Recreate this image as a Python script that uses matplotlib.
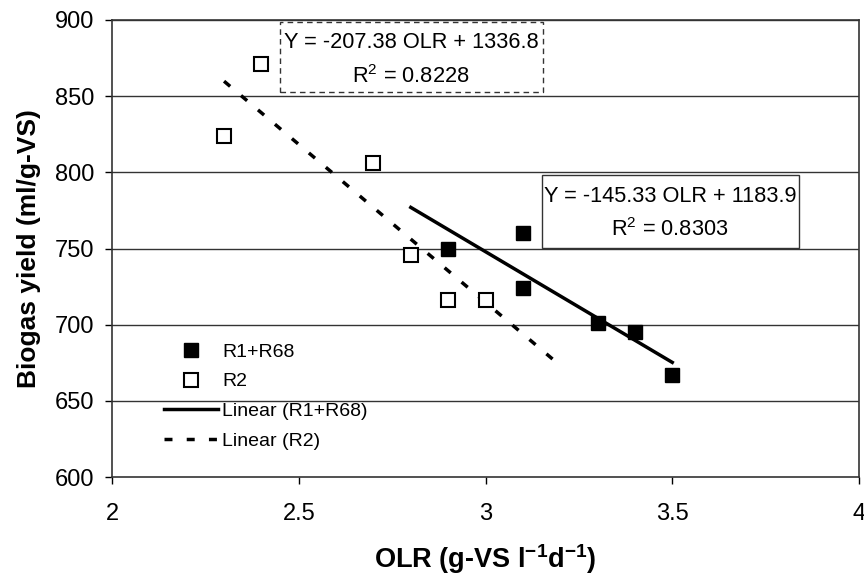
import numpy as np
import matplotlib
matplotlib.use("Agg")
import matplotlib.pyplot as plt
from matplotlib.patches import Rectangle

plt.rcParams['font.family'] = ['Liberation Sans', 'DejaVu Sans']
plt.rcParams['mathtext.fontset'] = 'custom'
plt.rcParams['mathtext.rm'] = 'Liberation Sans'
plt.rcParams['mathtext.bf'] = 'Liberation Sans:bold'

# Data
olr_r1 = [2.9, 3.1, 3.1, 3.3, 3.4, 3.5]
yield_r1 = [750, 760, 724, 701, 695, 667]
olr_r2 = [2.3, 2.4, 2.7, 2.8, 2.9, 3.0]
yield_r2 = [824, 871, 806, 746, 716, 716]

# Trendline coefficients (slope, intercept) and drawn ranges
fit_r1 = (-145.33, 1183.9)
range_r1 = [2.8, 3.5]
fit_r2 = (-207.38, 1336.8)
range_r2 = [2.3, 3.19]

xticks = [2, 2.5, 3, 3.5, 4]
xtick_labels = ['2', '2.5', '3', '3.5', '4']
yticks = [600, 650, 700, 750, 800, 850, 900]

W, H = 864, 586
fig = plt.figure(figsize=(W/100, H/100), dpi=100)
ax = fig.add_axes([112/W, 1 - 477/H, (859-112)/W, (477-20)/H])

ax.set_xlim(2, 4)
ax.set_ylim(600, 900)
for y in yticks[1:]:
    ax.axhline(y, color='#333333', lw=1.0, zorder=0)

ax.plot(olr_r1, yield_r1, 's', ms=10, mfc='black', mec='black', ls='none',
        label='R1+R68', zorder=3)
ax.plot(olr_r2, yield_r2, 's', ms=10, mfc='white', mec='black', mew=1.5,
        ls='none', label='R2', zorder=3)

xs1 = np.array(range_r1)
ax.plot(xs1, fit_r1[0]*xs1 + fit_r1[1], '-', color='black', lw=2.5,
        label='Linear (R1+R68)', zorder=2)
xs2 = np.array(range_r2)
ax.plot(xs2, fit_r2[0]*xs2 + fit_r2[1], color='black', lw=2.5,
        dashes=(2.3, 4.1), label='Linear (R2)', zorder=2)

ax.set_xticks(xticks)
ax.set_xticklabels(xtick_labels)
ax.set_yticks(yticks)
ax.tick_params(axis='both', direction='out', length=5, width=1, labelsize=17,
               colors='black')
ax.tick_params(axis='y', pad=8)
ax.tick_params(axis='x', pad=14)
for s in ax.spines.values():
    s.set_color('#333333')
    s.set_linewidth(1.2)

ax.set_xlabel('OLR (g-VS l$^{\\mathbf{-1}}$d$^{\\mathbf{-1}}$)', fontsize=19.5,
              fontweight='bold', labelpad=12)
ax.set_ylabel('Biogas yield (ml/g-VS)', fontsize=19, fontweight='bold',
              labelpad=10)


def fig_box(x0, y0, x1, y1, **kw):
    fig.patches.append(Rectangle((x0/W, 1 - y1/H), (x1-x0)/W, (y1-y0)/H,
                                 transform=fig.transFigure, fc='white',
                                 zorder=5, **kw))


# Equation boxes
fig_box(280, 22, 543, 92, ec='#333333', lw=1, ls=(0, (4, 3)))
fig.text(411/W, 1 - 42/H, 'Y = -207.38 OLR + 1336.8', ha='center',
         va='center', fontsize=15.7, zorder=6)
fig.text(411/W, 1 - 77/H, 'R$^2$ = 0.8228', ha='center', va='center',
         fontsize=15.7, zorder=6)

fig_box(542, 175, 799, 248, ec='#333333', lw=1)
fig.text(670/W, 1 - 196/H, 'Y = -145.33 OLR + 1183.9', ha='center',
         va='center', fontsize=15.7, zorder=6)
fig.text(670/W, 1 - 230/H, 'R$^2$ = 0.8303', ha='center', va='center',
         fontsize=15.7, zorder=6)

leg = ax.legend(loc='upper left', bbox_to_anchor=(0.059, 0.31), frameon=False,
                fontsize=14, handlelength=2.8, handletextpad=0.2,
                labelspacing=0.62, borderaxespad=0)

fig.savefig('out.png', dpi=100)
